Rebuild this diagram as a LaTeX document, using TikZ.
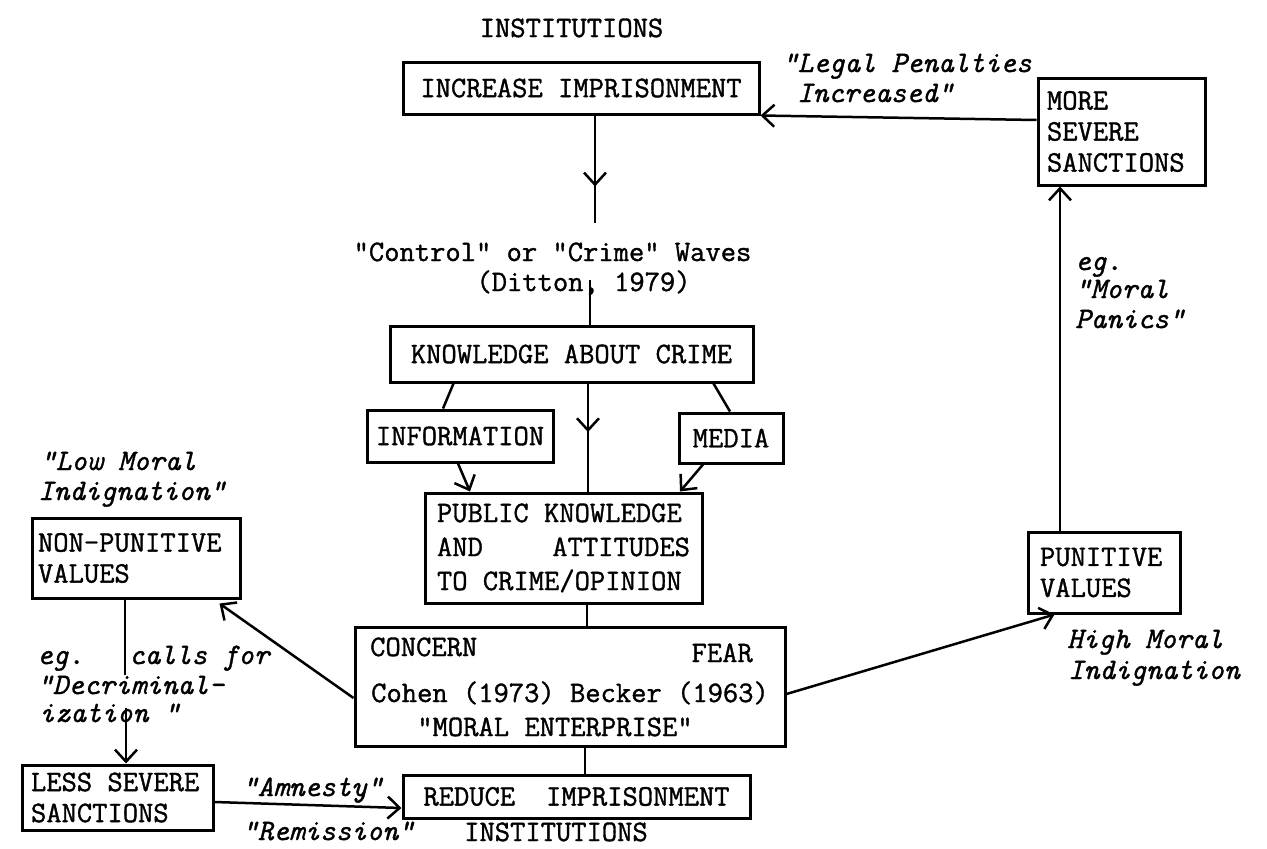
\documentclass[tikz,border=0pt]{standalone}
\usepackage{fontspec}
\usetikzlibrary{arrows.meta,calc,decorations.markings}
\newfontfamily\twfam{lmmono12-regular.otf}[ItalicFont=lmmono10-italic.otf, FakeBold=1.2]
\newcommand\twfont{\fontsize{29.7}{31}\selectfont\twfam}
\newcommand\twital{\fontsize{29.7}{31}\selectfont\twfam\itshape}
\begin{document}
\begin{tikzpicture}[x=1pt,y=-1pt,
  box/.style={draw, line width=3pt, inner sep=0pt, font=\twfont},
  lbox/.style={box, align=flush left},
  txt/.style={inner sep=0pt, font=\twfont},
  itxt/.style={inner sep=0pt, font=\twital},
  conn/.style={line width=2.5pt},
  arr/.style={conn, -{Straight Barb[length=12pt,width=22pt]}},
  midarrow/.style={conn, postaction={decorate}, decoration={markings, mark=at position #1 with {\arrow{Straight Barb[length=12pt,width=22pt]}}}}
]
\fill[white] (0,0) rectangle (1267,849);
\useasboundingbox (0,0) rectangle (1267,849);

% top
\node[txt, anchor=base] (insttop) at (571.5,37) {INSTITUTIONS};
\node[box, minimum width=356, minimum height=52] (inc) at (581,88) {INCREASE IMPRISONMENT};
\node[itxt, anchor=base west] (legal1) at (782,72) {"Legal Penalties};
\node[itxt, anchor=base west] (legal2) at (797,102) {Increased"};
\node[lbox, text width=149, inner xsep=9, minimum height=107] (more) at (1121.5,131.5) {MORE\\SEVERE\\SANCTIONS};
\node[itxt, anchor=base west] (eg1) at (1075,270) {eg.};
\node[itxt, anchor=base west] (moral1) at (1075,298) {"Moral};
\node[itxt, anchor=base west] (panics) at (1075,328) {Panics"};

% centre column
\node[txt, anchor=base] (ctrl) at (552.5,261) {"Control" or "Crime" Waves};
\node[txt, anchor=base] (ditton) at (583.5,291) {(Ditton, 1979)};
\node[box, minimum width=363, minimum height=56] (kn) at (571.5,354) {KNOWLEDGE ABOUT CRIME};
\node[box, minimum width=186, minimum height=52] (info) at (460,436) {INFORMATION};
\node[box, minimum width=104, minimum height=50] (media) at (731,438) {MEDIA};
\node[lbox, text width=253, inner xsep=12, minimum height=110, font=\fontsize{29.7}{34}\selectfont\twfam] (pub) at (563.5,548) {PUBLIC KNOWLEDGE\\AND\hfill ATTITUDES\\TO CRIME/OPINION};

\node[box, minimum width=430, minimum height=119] (con) at (570,686.5) {};
\node[txt, anchor=base west] (concern) at (370,656) {CONCERN};
\node[txt, anchor=base east] (fear) at (753,662) {FEAR};
\node[txt, anchor=base west] (cohen) at (371,702) {Cohen (1973) Becker (1963)};
\node[txt, anchor=base] (moralent) at (555,736) {"MORAL ENTERPRISE"};

\node[box, minimum width=347, minimum height=43] (red) at (576.5,796.5) {REDUCE\hspace{15.6pt} IMPRISONMENT};
\node[txt, anchor=base] (instbot) at (556,841) {INSTITUTIONS};

% left
\node[itxt, anchor=base west] (low1) at (40,470) {"Low Moral};
\node[itxt, anchor=base west] (low2) at (38,500) {Indignation"};
\node[lbox, text width=196, inner xsep=6, minimum height=80] (np) at (136,558) {NON-PUNITIVE\\VALUES};
\node[itxt, anchor=base west] (eg2) at (37,664) {eg.};
\node[itxt, anchor=base west] (calls) at (129,664) {calls for};
\node[itxt, anchor=base west] (decrim1) at (37,694) {"Decriminal-};
\node[itxt, anchor=base west] (decrim2) at (39,722) {ization "};
\node[lbox, text width=173, inner xsep=9, minimum height=65] (less) at (117.5,797.5) {LESS SEVERE\\SANCTIONS};
\node[itxt, anchor=base west] (amnesty) at (242,796) {"Amnesty"};
\node[itxt, anchor=base west] (remission) at (242,840) {"Remission"};

% right
\node[lbox, text width=128, inner xsep=12, minimum height=81] (pun) at (1104,572.5) {PUNITIVE\\VALUES};
\node[itxt, anchor=base west] (high1) at (1067,648) {High Moral};
\node[itxt, anchor=base west] (high2) at (1068,679) {Indignation};

% free connector ends
\coordinate (cA) at (595,223);
\coordinate (cB) at (590,280);
\coordinate (cD) at (125,675);
\coordinate (cE) at (126,708);

% connectors
\draw[arr] ($(more.west)+(0,-11.5)$) -- (inc.south east);
\draw[midarrow=0.66] (inc.south -| cA) -- (cA);
\draw[conn] (cB) -- (cB |- kn.north);
\draw[conn] ($(kn.south west)+(65,0)$) -- ($(info.north)+(-17,0)$);
\draw[conn] ($(kn.south east)+(-41,0)$) -- ($(media.north)+(-1,0)$);
\draw[midarrow=0.45] ($(kn.south)+(16.5,0)$) -- ($(pub.north)+(24.5,0)$);
\draw[arr] ($(info.south)+(-2,0)$) -- ($(pub.north)+(-93.5,0)$);
\draw[arr] ($(media.south)+(-28,0)$) -- ($(pub.north)+(116.5,0)$);
\draw[conn] ($(pub.south)+(23.5,0)$) -- ($(con.north)+(17,0)$);
\draw[conn] ($(con.south)+(15,0)$) -- ($(red.north)+(8.5,0)$);
\draw[arr] ($(con.west)+(0,11.5)$) -- ($(np.south east)+(-22,4)$);
\draw[arr] ($(con.east)+(0,7.5)$) -- ($(pun.south west)+(28,0)$);
\draw[arr] ($(pun.north)+(-44,0)$) -- ($(more.south)+(-61.5,0)$);
\draw[conn] ($(np.south)+(-11,0)$) -- (cD);
\draw[arr] (cE) -- ($(less.north)+(8.5,0)$);
\draw[arr] ($(less.east)+(0,4.5)$) -- ($(red.west)+(0,11.5)$);
\end{tikzpicture}
\end{document}
